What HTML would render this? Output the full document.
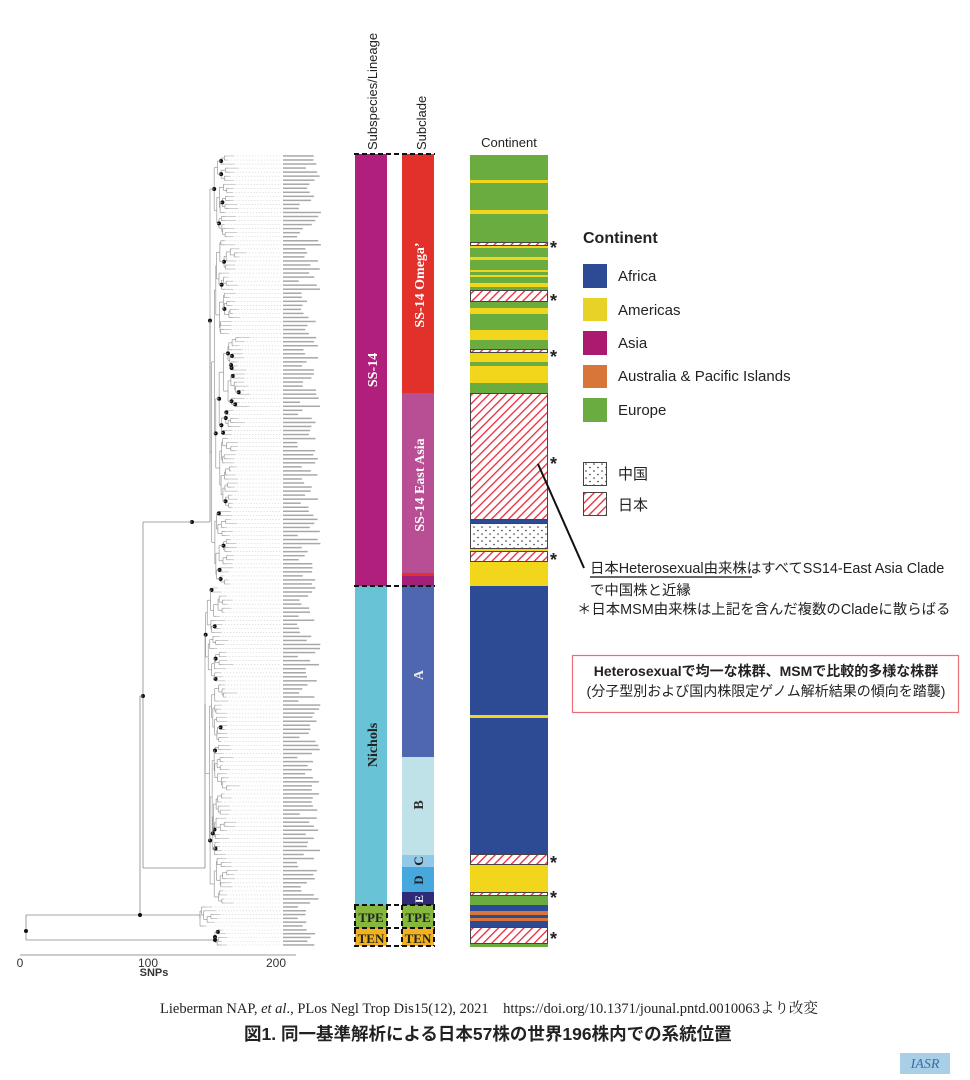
<!DOCTYPE html>
<html><head><meta charset="utf-8">
<style>
body{margin:0;background:#fff;}
#w{position:relative;width:970px;height:1080px;overflow:hidden;font-family:"Liberation Sans","Noto Sans CJK JP",sans-serif;color:#222;}
.t{position:absolute;white-space:nowrap;}
</style></head><body><div id="w">
<svg id="s" width="970" height="1080" style="position:absolute;left:0;top:0">
<defs>
<pattern id="hat" width="6" height="6" patternUnits="userSpaceOnUse" patternTransform="rotate(45)">
<rect width="6" height="6" fill="#fff"/><rect x="0" y="0" width="1.3" height="6" fill="#e8283a"/></pattern>
<pattern id="dot" width="8" height="7" patternUnits="userSpaceOnUse">
<rect width="8" height="7" fill="#fff"/><circle cx="2" cy="2" r="0.8" fill="#333"/><circle cx="6" cy="5.5" r="0.8" fill="#333"/></pattern>
</defs>
<g id="tree"></g>
<rect x="355" y="154" width="32" height="432" fill="#b01f7c"/>
<rect x="355" y="586" width="32" height="319" fill="#67c3d5"/>
<rect x="355" y="905" width="32" height="23" fill="#85b83c"/>
<rect x="355" y="928" width="32" height="18" fill="#f2b21e"/>
<rect x="402" y="154" width="32" height="239" fill="#e2312b"/>
<rect x="402" y="393" width="32" height="180" fill="#b84f95"/>
<rect x="402" y="573" width="32" height="3" fill="#e2312b"/>
<rect x="402" y="576" width="32" height="10" fill="#a3207a"/>
<rect x="402" y="586" width="32" height="171" fill="#4f66b0"/>
<rect x="402" y="757" width="32" height="98" fill="#bfe2e8"/>
<rect x="402" y="855" width="32" height="12" fill="#92c9e8"/>
<rect x="402" y="867" width="32" height="25" fill="#47a8de"/>
<rect x="402" y="892" width="32" height="13" fill="#2e2b78"/>
<rect x="402" y="905" width="32" height="23" fill="#85b83c"/>
<rect x="402" y="928" width="32" height="18" fill="#f2b21e"/>
<g stroke="#111" stroke-width="2" stroke-dasharray="5,3" fill="none">
<line x1="354" y1="154" x2="435" y2="154"/><line x1="354" y1="586" x2="435" y2="586"/>
<line x1="354" y1="905" x2="435" y2="905"/><line x1="354" y1="928" x2="435" y2="928"/>
<line x1="354" y1="946" x2="435" y2="946"/>
<line x1="355" y1="905" x2="355" y2="946"/><line x1="387" y1="905" x2="387" y2="946"/>
<line x1="402" y1="905" x2="402" y2="946"/><line x1="434" y1="905" x2="434" y2="946"/>
</g>
<g font-family="Liberation Serif,serif" font-weight="bold">
<text transform="translate(377,370) rotate(-90)" text-anchor="middle" fill="#fff" font-size="14">SS-14</text>
<text transform="translate(424,285) rotate(-90)" text-anchor="middle" fill="#fff" font-size="14">SS-14 Omega’</text>
<text transform="translate(424,485) rotate(-90)" text-anchor="middle" fill="#fff" font-size="14">SS-14 East Asia</text>
<text transform="translate(377,745) rotate(-90)" text-anchor="middle" fill="#222" font-size="14">Nichols</text>
<text transform="translate(423,675) rotate(-90)" text-anchor="middle" fill="#eee" font-size="14">A</text>
<text transform="translate(423,805) rotate(-90)" text-anchor="middle" fill="#333" font-size="14">B</text>
<text transform="translate(423,861) rotate(-90)" text-anchor="middle" fill="#222" font-size="13">C</text>
<text transform="translate(423,880) rotate(-90)" text-anchor="middle" fill="#222" font-size="13">D</text>
<text transform="translate(423,899) rotate(-90)" text-anchor="middle" fill="#fff" font-size="12">E</text>
<text x="371" y="922" text-anchor="middle" font-size="13" fill="#222">TPE</text>
<text x="418" y="922" text-anchor="middle" font-size="13" fill="#222">TPE</text>
<text x="371" y="943" text-anchor="middle" font-size="13" fill="#222">TEN</text>
<text x="418" y="943" text-anchor="middle" font-size="13" fill="#222">TEN</text>
</g>
<g font-size="13" fill="#222">
<text transform="translate(377,150) rotate(-90)">Subspecies/Lineage</text>
<text transform="translate(426,150) rotate(-90)">Subclade</text>
<text x="509" y="147" text-anchor="middle">Continent</text>
</g>
<g id="cont"></g>
<g font-size="18" fill="#222" font-weight="bold">
<text x="550" y="254">*</text><text x="550" y="307">*</text><text x="550" y="363">*</text>
<text x="550" y="470">*</text><text x="550" y="566">*</text><text x="550" y="869">*</text>
<text x="550" y="904">*</text><text x="550" y="945">*</text>
</g>
<line x1="538" y1="464" x2="584" y2="568" stroke="#111" stroke-width="2"/>
<line x1="590" y1="577" x2="752" y2="577" stroke="#333" stroke-width="1.5"/>
<rect x="583" y="264" width="24" height="24" fill="#2d4a94"/>
<rect x="583" y="298" width="24" height="23" fill="#e9d227"/>
<rect x="583" y="331" width="24" height="24" fill="#ac1a70"/>
<rect x="583" y="365" width="24" height="23" fill="#d8763a"/>
<rect x="583" y="398" width="24" height="24" fill="#6aac40"/>
<rect x="583.5" y="462.5" width="23" height="23" fill="url(#dot)" stroke="#444"/>
<rect x="583.5" y="492.5" width="23" height="23" fill="url(#hat)" stroke="#444"/>
<line x1="20" y1="955" x2="296" y2="955" stroke="#999" stroke-width="1"/>
<g font-size="12" fill="#333" text-anchor="middle">
<text x="20" y="967">0</text><text x="148" y="967">100</text><text x="276" y="967">200</text>
<text x="154" y="976" font-weight="bold" font-size="11">SNPs</text></g>
<rect x="572.5" y="655.5" width="386" height="57" fill="none" stroke="#e8707a" stroke-width="1.2"/>
<rect x="900" y="1053" width="50" height="21" fill="#a8cfe6"/>
<text x="925" y="1068" text-anchor="middle" font-family="Liberation Serif,serif" font-style="italic" font-size="14" fill="#3a6ea8">IASR</text>
</svg>
<div class="t" style="left:583px;top:230px;font-size:16px;font-weight:bold;">Continent</div>
<div class="t" style="left:618px;top:268px;font-size:15px;">Africa</div>
<div class="t" style="left:618px;top:302px;font-size:15px;">Americas</div>
<div class="t" style="left:618px;top:335px;font-size:15px;">Asia</div>
<div class="t" style="left:618px;top:368px;font-size:15px;">Australia &amp; Pacific Islands</div>
<div class="t" style="left:618px;top:402px;font-size:15px;">Europe</div>
<div class="t" style="left:618px;top:463px;font-size:15px;">中国</div>
<div class="t" style="left:618px;top:494px;font-size:15px;">日本</div>
<div class="t" style="left:590px;top:557px;font-size:14.4px;">日本Heterosexual由来株はすべてSS14-East Asia Clade</div>
<div class="t" style="left:590px;top:579px;font-size:14.4px;">で中国株と近縁</div>
<div class="t" style="left:577px;top:598px;font-size:14.4px;">＊日本MSM由来株は上記を含んだ複数のCladeに散らばる</div>
<div class="t" style="left:573px;top:661px;width:386px;text-align:center;font-size:14px;font-weight:bold;">Heterosexualで均一な株群、MSMで比較的多様な株群</div>
<div class="t" style="left:573px;top:681px;width:386px;text-align:center;font-size:14px;">(分子型別および国内株限定ゲノム解析結果の傾向を踏襲)</div>
<div class="t" style="left:160px;top:997px;font-size:14.5px;font-family:'Liberation Serif','Noto Serif CJK SC',serif;">Lieberman NAP, <i>et al</i>., PLos Negl Trop Dis15(12), 2021 &nbsp;&nbsp; https://doi.org/10.1371/jounal.pntd.0010063より改変</div>
<div class="t" style="left:244px;top:1021px;font-size:17.5px;font-weight:bold;">図1. 同一基準解析による日本57株の世界196株内での系統位置</div>
</div>
<script>
var NS="http://www.w3.org/2000/svg";
function el(p,n,a){var e=document.createElementNS(NS,n);for(var k in a)e.setAttribute(k,a[k]);p.appendChild(e);return e;}
var C=document.getElementById('cont');
var G="#6aac40",Y="#f2d61c",B="#2d4a94",O="#d8763a",H="url(#hat)",D="url(#dot)";
var segs=[[155,242,G],[242,246,H],[246,290,G],[290,302,H],[302,349,G],[349,353,H],[353,393,Y],[393,520,H],[520,523,B],[523,549,D],[549,551,Y],[551,562,H],[562,586,Y],[586,854,B],[854,865,H],[865,892,Y],[892,896,H],[896,905,G],[905,911,B],[911,915,O],[915,918,B],[918,921,O],[921,927,B],[927,944,H],[944,947,G]];
segs.forEach(function(s){el(C,'rect',{x:470,y:s[0],width:78,height:s[1]-s[0],fill:s[2]});});
[[180,183],[210,214],[246,248],[257,260],[270,272],[275,277],[283,287],[308,314],[330,340],[715,718]].forEach(function(s){el(C,'rect',{x:470,y:s[0],width:78,height:s[1]-s[0],fill:Y});});
[[362,366],[383,393]].forEach(function(s){el(C,'rect',{x:470,y:s[0],width:78,height:s[1]-s[0],fill:G});});
segs.forEach(function(s){if(s[2]==H||s[2]==D)el(C,'rect',{x:470.5,y:s[0]+.5,width:77,height:s[1]-s[0]-1,fill:'none',stroke:'#444','stroke-width':1});});
var T=document.getElementById('tree');
var seed=7;function r(){seed=(seed*16807)%2147483647;return seed/2147483647;}
function L(x1,y1,x2,y2,c,w){el(T,'line',{x1:x1,y1:y1,x2:x2,y2:y2,stroke:c||'#888','stroke-width':w||0.8});}
function dot(x,y){el(T,'circle',{cx:x,cy:y,r:2,fill:'#111'});}
function build(ys,x){
 if(ys.length==1){var y=ys[0];var tx=Math.min(x+1+r()*10,270);
  L(x,y,tx,y,'#aaa',0.6);
  el(T,'line',{x1:tx,y1:y,x2:281,y2:y,stroke:'#ccc','stroke-width':0.6,'stroke-dasharray':'1.2,1.8'});
  el(T,'rect',{x:283,y:y-0.8,width:14+r()*24,height:1.5,fill:'#a8a8a8'});
  return y;}
 var n=ys.length;var k=Math.max(1,Math.min(n-1,Math.round(n*(0.2+r()*0.6))));
 var x1=Math.min(x+0.5+r()*4,262),x2=Math.min(x+0.5+r()*4,262);
 var c1=build(ys.slice(0,k),x1),c2=build(ys.slice(k),x2);
 L(x,c1,x1,c1,'#999',0.7);L(x,c2,x2,c2,'#999',0.7);L(x,c1,x,c2,'#999',0.7);
 if(r()<0.2)dot(x,(c1+c2)/2);
 return (c1+c2)/2;}
function range(a,b,n){var o=[];for(var i=0;i<n;i++)o.push(a+(b-a)*i/(n-1));return o;}
var ss=build(range(156,584,107),210);
var ni=build(range(588,903,79),205);
var tp=build(range(907,926,6),200);
var te=build(range(930,945,5),215);
L(192,522,210,522);L(210,522,210,ss);dot(192,522);
L(143,522,192,522);L(143,868,205,868);L(205,868,205,ni);
L(143,522,143,868);dot(143,696);
L(140,696,143,696);L(140,696,140,915);
L(140,915,200,915);L(200,915,200,tp);
L(26,915,140,915);dot(140,915);
L(26,915,26,940);dot(26,931);
L(26,940,215,940);L(215,940,215,te);dot(215,940);
</script>
</body></html>
